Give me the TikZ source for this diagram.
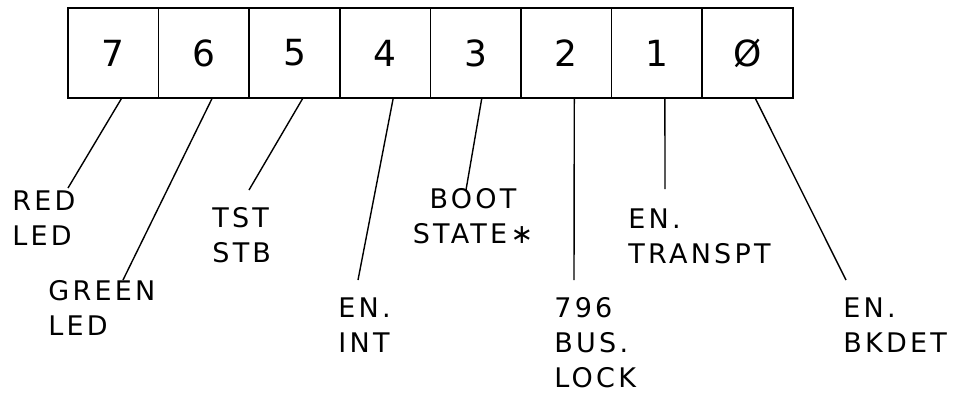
\documentclass[tikz,border=0pt]{standalone}
\usepackage{fontspec}
\setmainfont{DejaVu Sans}[LetterSpace=12]
\usetikzlibrary{calc,positioning}
\tikzset{
  bitcell/.style={
    draw,
    line width=0.8pt,
    minimum width=45.3pt,
    minimum height=45pt,
    inner sep=0pt,
    font=\fontsize{18}{20}\selectfont
  },
  bitlabel/.style={
    anchor=north west,
    align=left,
    inner sep=0pt,
    font=\fontsize{13.5}{17.5}\selectfont
  },
  lead/.style={
    line width=0.7pt
  }
}
\def\cellW{90.6}

\begin{document}
\begin{tikzpicture}[x=0.5pt,y=-0.5pt]
  % page size of the scanned figure, y runs downwards
  \useasboundingbox (0,0) rectangle (958,396);

  % register cells, bit 7 on the left
  \foreach \b/\t in {7/7,6/6,5/5,4/4,3/3,2/2,1/1,0/Ø}
    \node[bitcell] (b\b) at ({113.3+\cellW*(7-\b)},53) {\t};

  % bit names
  \node[bitlabel] (redled)    at (12,190)  {RED\\LED};
  \node[bitlabel] (greenled)  at (48,280)  {GREEN\\LED};
  \node[bitlabel] (tststb)    at (212,207) {TST\\STB};
  \node[bitlabel] (enint)     at (338,297) {EN.\\INT};
  \node[bitlabel, anchor=north, align=center] (bootstate) at (473,188) {BOOT\\STATE∗};
  \node[bitlabel] (buslock)   at (554,297) {796\\BUS.\\LOCK};
  \node[bitlabel] (transpt)   at (628,208) {EN.\\TRANSPT};
  \node[bitlabel] (bkdet)     at (843,297) {EN.\\BKDET};

  % leads from the cells down to their names
  \draw[lead] ($(b7.south)+(8,0)$) -- ($(redled.north west)+(56,-2)$);
  \draw[lead] ($(b6.south)+(8,0)$) -- ($(greenled.north west)+(75,0)$);
  \draw[lead] ($(b5.south)+(8,0)$) -- ($(tststb.north west)+(37,-17)$);
  \draw[lead] ($(b4.south)+(8,0)$) -- ($(enint.north west)+(20,-17)$);
  \draw[lead] ($(b3.south)+(6,0)$) -- ($(bootstate.north)+(-7,2)$);
  \draw[lead] ($(b2.south)+(8,0)$) -- ($(buslock.north west)+(20,-17)$);
  \draw[lead] ($(b1.south)+(8,0)$) -- ($(transpt.north west)+(37,-19)$);
  \draw[lead] ($(b0.south)+(8,0)$) -- ($(bkdet.north west)+(3,-17)$);
\end{tikzpicture}
\end{document}
